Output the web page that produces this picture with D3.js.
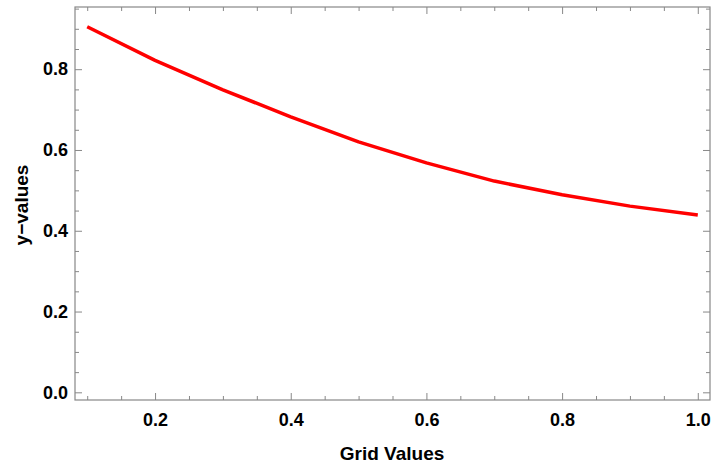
<!DOCTYPE html>
<html>
<head>
<meta charset="utf-8">
<script src="https://cdn.jsdelivr.net/npm/d3@7"></script>
<style>
  body { margin: 0; background: #fff; }
  .label { font-family: "Liberation Sans", Arial, sans-serif; font-weight: bold; }
  .tick text { font-family: "Liberation Sans", Arial, sans-serif; font-weight: bold; font-size: 18px; fill: #000; }
</style>
</head>
<body>
<div class="chart"></div>
<script>
// Grid values vs y-values, Mathematica-style framed plot
var gridValues = [0.1, 0.2, 0.3, 0.4, 0.5, 0.6, 0.7, 0.8, 0.9, 1.0];
var yValues = [0.905, 0.822, 0.749, 0.682, 0.620, 0.568, 0.523, 0.489, 0.461, 0.439];
var xTickLabels = [0.2, 0.4, 0.6, 0.8, 1.0];
var yTickLabels = [0.0, 0.2, 0.4, 0.6, 0.8];

var svgWidth = 711;
var svgHeight = 465;
var margin = { top: 7, right: 1, bottom: 65, left: 75 };
var width = svgWidth - margin.left - margin.right;
var height = svgHeight - margin.top - margin.bottom;
var frameColor = "#888888";

var svg = d3.select(".chart")
  .append("svg")
  .attr("width", svgWidth)
  .attr("height", svgHeight)
  .append("g")
  .attr("transform", "translate(" + margin.left + "," + margin.top + ")");

var x = d3.scaleLinear().domain([0.082, 1.018]).range([0, width]);
var y = d3.scaleLinear().domain([-0.019, 0.954]).range([height, 0]);

// minor ticks every 0.05
var xMinor = d3.range(0.1, 1.0001, 0.05).filter(function(v) { return Math.abs(Math.round(v * 5) - v * 5) > 1e-6; });
var yMinor = d3.range(0.05, 0.951, 0.05).filter(function(v) { return Math.abs(Math.round(v * 5) - v * 5) > 1e-6; });

function styleTicks(g) {
  g.select(".domain").remove();
  g.selectAll(".tick line").attr("stroke", frameColor).attr("stroke-width", 1);
}

// frame ticks (inward) on all four sides
var sides = [
  [function() { return d3.axisBottom(x); }, "translate(0," + height + ")", true],
  [function() { return d3.axisTop(x); }, "translate(0,0)", true],
  [function() { return d3.axisLeft(y); }, "translate(0,0)", false],
  [function() { return d3.axisRight(y); }, "translate(" + width + ",0)", false]
];
sides.forEach(function(s) {
  var major = s[2] ? xTickLabels : yTickLabels;
  var minor = s[2] ? xMinor : yMinor;
  svg.append("g").attr("transform", s[1])
    .call(s[0]().tickValues(major).tickSize(-7).tickFormat(""))
    .call(styleTicks);
  svg.append("g").attr("transform", s[1])
    .call(s[0]().tickValues(minor).tickSize(-4).tickFormat(""))
    .call(styleTicks);
});

// tick labels
svg.append("g")
  .attr("transform", "translate(0," + height + ")")
  .call(d3.axisBottom(x).tickValues(xTickLabels).tickSize(0).tickPadding(13).tickFormat(d3.format(".1f")))
  .call(function(g) { g.select(".domain").remove(); });

svg.append("g")
  .call(d3.axisLeft(y).tickValues(yTickLabels).tickSize(0).tickPadding(7).tickFormat(d3.format(".1f")))
  .call(function(g) { g.select(".domain").remove(); });

// frame
svg.append("rect")
  .attr("x", 0).attr("y", 0)
  .attr("width", width).attr("height", height)
  .attr("fill", "none")
  .attr("stroke", frameColor)
  .attr("stroke-width", 1.2);

// the curve
var line = d3.line()
  .x(function(d, i) { return x(gridValues[i]); })
  .y(function(d) { return y(d); });

svg.append("path")
  .datum(yValues)
  .attr("d", line)
  .attr("fill", "none")
  .attr("stroke", "#ff0000")
  .attr("stroke-width", 3.5)
  .attr("stroke-linejoin", "round");

// axis labels
svg.append("text")
  .attr("class", "label")
  .attr("x", 392 - margin.left)
  .attr("y", 460 - margin.top)
  .attr("text-anchor", "middle")
  .attr("font-size", 19)
  .text("Grid Values");

svg.append("text")
  .attr("class", "label")
  .attr("transform", "translate(" + (28 - margin.left) + "," + (205 - margin.top) + ") rotate(-90)")
  .attr("text-anchor", "middle")
  .attr("font-size", 19)
  .text("y\u2212values");
</script>
</body>
</html>
